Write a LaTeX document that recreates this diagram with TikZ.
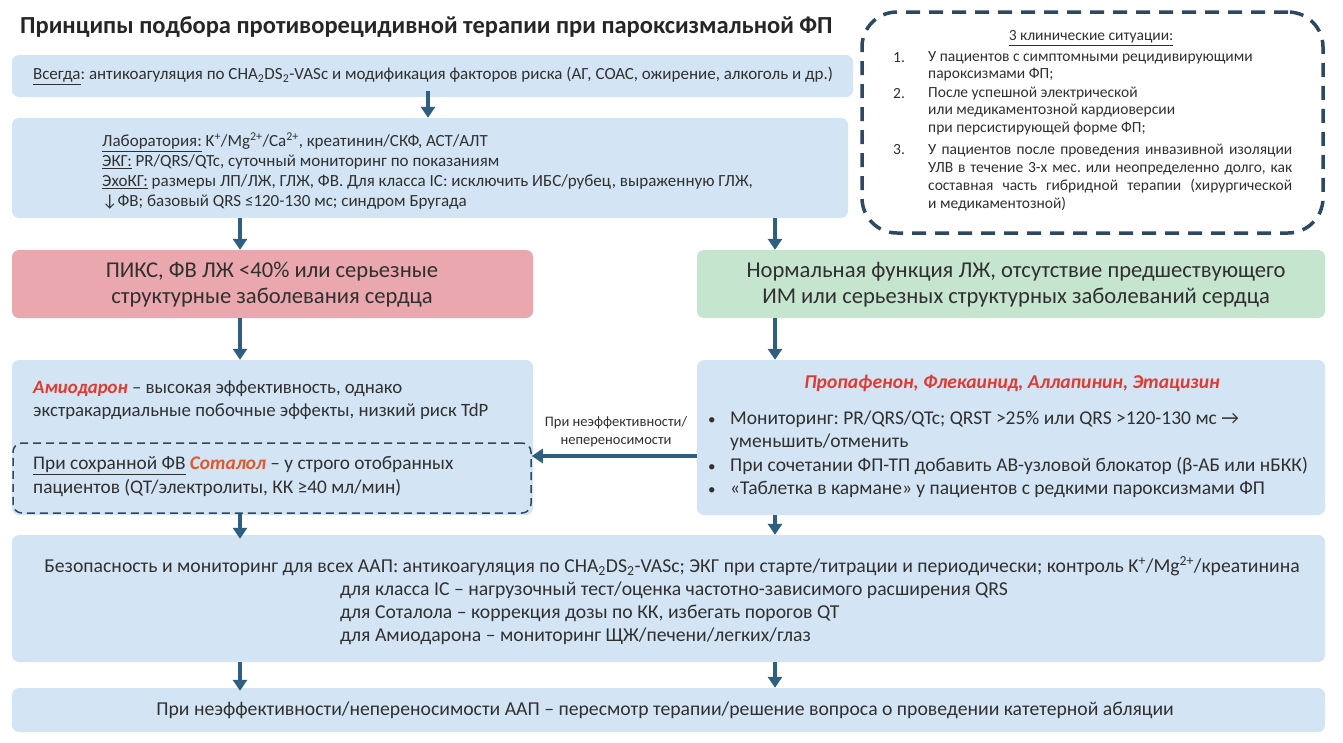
\documentclass[tikz,border=0pt]{standalone}
\usepackage{fontspec}
\setmainfont{Carlito}
\usetikzlibrary{arrows.meta}
\definecolor{boxblue}{HTML}{D3E5F4}
\definecolor{redc}{HTML}{EAA7AD}
\definecolor{greenc}{HTML}{C6E5CF}
\definecolor{arrowc}{HTML}{2E5F80}
\definecolor{dashc}{HTML}{2C4862}
\definecolor{txtc}{HTML}{303030}
\definecolor{amioc}{HTML}{E23A30}
\definecolor{sotc}{HTML}{E0582C}
\newcommand\fs[2]{\fontsize{#1}{#2}\selectfont}
\newcommand\bul{\makebox[22pt][l]{\fs{15}{15}•}}
\frenchspacing
\begin{document}
\begin{tikzpicture}[x=1pt,y=-1pt,
  box/.style={fill=boxblue, rounded corners=7pt, inner sep=0pt, draw=none},
  txt/.style={inner sep=0pt, text=txtc, align=left},
  arr/.style={draw=arrowc, line width=4pt, -{Triangle[width=14pt,length=11pt]}},
  dbox/.style={draw=dashc, line width=1.5pt, dash pattern=on 8pt off 5pt, rounded corners=9pt, inner sep=0pt},
]
\useasboundingbox[fill=white] (0,0) rectangle (1343,742);

% title
\node[txt, anchor=west, font=\fs{24.5}{28}\bfseries, text=black!85] (title) at (20,27) {Принципы подбора противорецидивной терапии при пароксизмальной ФП};

% situations box
\node[dbox, line width=3.5pt, dash pattern=on 14pt off 9pt, rounded corners=35pt, minimum width=461pt, minimum height=221pt] (sit) at (1092.5,122.5) {};
\node[txt, font=\fs{15.5}{17}] (sitt) at (1091,38) {\underline{3 клинические ситуации:}};
\node[txt, anchor=west, font=\fs{15.5}{17}] (n1) at (893,58) {1.};
\node[txt, anchor=west, font=\fs{15.5}{17}] (n2) at (893,94) {2.};
\node[txt, anchor=west, font=\fs{15.5}{17}] (n3) at (893,150) {3.};
\node[txt, anchor=west, font=\fs{15.5}{17.5}] (i1) at (928,66.5) {У пациентов с симптомными рецидивирующими\\пароксизмами ФП;};
\node[txt, anchor=west, font=\fs{15.5}{17.5}] (i2) at (928,111) {После успешной электрической\\или медикаментозной кардиоверсии\\при персистирующей форме ФП;};
\node[txt, anchor=west, font=\fs{15.5}{18.3}] (i3) at (928,177.5) {\makebox[364pt][s]{У пациентов после проведения инвазивной изоляции}\\\makebox[364pt][s]{УЛВ в течение 3-х мес. или неопределенно долго, как}\\\makebox[364pt][s]{составная часть гибридной терапии (хирургической}\\и медикаментозной)};

% box 1
\node[box, minimum width=841pt, minimum height=42pt] (b1) at (432.5,76) {};
\node[txt, font=\fs{17}{20}] (t1) at (433,76) {\underline{Всегда}: антикоагуляция по CHA\textsubscript{2}DS\textsubscript{2}-VASc и модификация факторов риска (АГ, СОАС, ожирение, алкоголь и др.)};

% box 2
\node[box, minimum width=836pt, minimum height=100pt] (b2) at (430,168) {};
\node[txt, anchor=west, font=\fs{17}{20}] (t2) at (102,171) {\underline{Лаборатория:} K\textsuperscript{+}/Mg\textsuperscript{2+}/Ca\textsuperscript{2+}, креатинин/СКФ, АСТ/АЛТ\\
\underline{ЭКГ:} PR/QRS/QTc, суточный мониторинг по показаниям\\
\underline{ЭхоКГ:} размеры ЛП/ЛЖ, ГЛЖ, ФВ. Для класса IC: исключить ИБС/рубец, выраженную ГЛЖ,\\
↓ФВ; базовый QRS ≤120-130 мс; синдром Бругада};

% red / green
\node[box, fill=redc, minimum width=521pt, minimum height=68pt] (red) at (272.5,284) {};
\node[txt, align=center, font=\fs{22.6}{26}] (tred) at (272,285) {ПИКС, ФВ ЛЖ <40\% или серьезные\\структурные заболевания сердца};
\node[box, fill=greenc, minimum width=628pt, minimum height=68pt] (grn) at (1011,284) {};
\node[txt, align=center, font=\fs{22.6}{26}] (tgrn) at (1016,285) {Нормальная функция ЛЖ, отсутствие предшествующего\\ИМ или серьезных структурных заболеваний сердца};

% amiodarone box
\node[box, minimum width=521pt, minimum height=155pt] (amio) at (272.5,437.5) {};
\node[txt, anchor=west, font=\fs{18.8}{23}] (tamio) at (33,400.5) {{\color{amioc}\bfseries\itshape Амиодарон} – высокая эффективность, однако\\экстракардиальные побочные эффекты, низкий риск TdP};
\node[dbox, minimum width=518pt, minimum height=70pt] (sot) at (272,478) {};
\node[txt, anchor=west, font=\fs{19.3}{24}] (tsot) at (33,477) {\underline{При сохранной ФВ} {\color{sotc}\bfseries\itshape Соталол} – у строго отобранных\\пациентов (QT/электролиты, КК ≥40 мл/мин)};

% right box
\node[box, minimum width=628pt, minimum height=155pt] (rb) at (1011,437.5) {};
\node[txt, font=\fs{19.6}{22}\bfseries\itshape, text=amioc] (trb) at (1012,383) {Пропафенон, Флекаинид, Аллапинин, Этацизин};
\node[txt, anchor=west, font=\fs{19.5}{23.5}] (bul) at (708,454.5) {\bul Мониторинг: PR/QRS/QTc; QRST >25\% или QRS >120-130 мс →\\
\hspace*{22pt}уменьшить/отменить\\
\bul При сочетании ФП-ТП добавить АВ-узловой блокатор (β-АБ или нБКК)\\
\bul «Таблетка в кармане» у пациентов с редкими пароксизмами ФП};

% horizontal arrow + label
\coordinate (ha) at (0,456);
\draw[arr] (rb.west |- ha) -- (sot.east |- ha);
\node[txt, align=center, font=\fs{14.5}{18}] (lab) at (616,432) {При неэффективности/\\непереносимости};

% bottom boxes
\node[box, minimum width=1313pt, minimum height=127pt] (bot) at (668.5,598.5) {};
\node[txt, font=\fs{19.7}{22}] (tb1) at (672,566) {Безопасность и мониторинг для всех ААП: антикоагуляция по CHA\textsubscript{2}DS\textsubscript{2}-VASc; ЭКГ при старте/титрации и периодически; контроль K\textsuperscript{+}/Mg\textsuperscript{2+}/креатинина};
\node[txt, anchor=west, font=\fs{19.7}{23}] (tb2) at (340,613) {для класса IC – нагрузочный тест/оценка частотно-зависимого расширения QRS\\
для Соталола – коррекция дозы по КК, избегать порогов QT\\
для Амиодарона – мониторинг ЩЖ/печени/легких/глаз};
\node[box, minimum width=1313pt, minimum height=44pt] (last) at (668.5,710) {};
\node[txt, font=\fs{19.7}{22}] (tlast) at (665,710) {При неэффективности/непереносимости ААП – пересмотр терапии/решение вопроса о проведении катетерной абляции};

% arrows
\coordinate (xa) at (428,0);
\coordinate (xl) at (240,0);
\coordinate (xr) at (775,0);
\draw[arr] ([yshift=6pt]b1.south -| xa) -- (b2.north -| xa);
\draw[arr] (b2.south -| xl) -- (red.north -| xl);
\draw[arr] (b2.south -| xr) -- (grn.north -| xr);
\draw[arr] (red.south -| xl) -- (amio.north -| xl);
\draw[arr] (grn.south -| xr) -- (rb.north -| xr);
\draw[arr] (sot.south -| xl) -- ([yshift=-4pt]bot.north -| xl);
\draw[arr] (rb.south -| xr) -- (bot.north -| xr);
\draw[arr] (bot.south -| xl) -- ([yshift=-3pt]last.north -| xl);
\draw[arr] (bot.south -| xr) -- (last.north -| xr);
\end{tikzpicture}
\end{document}
